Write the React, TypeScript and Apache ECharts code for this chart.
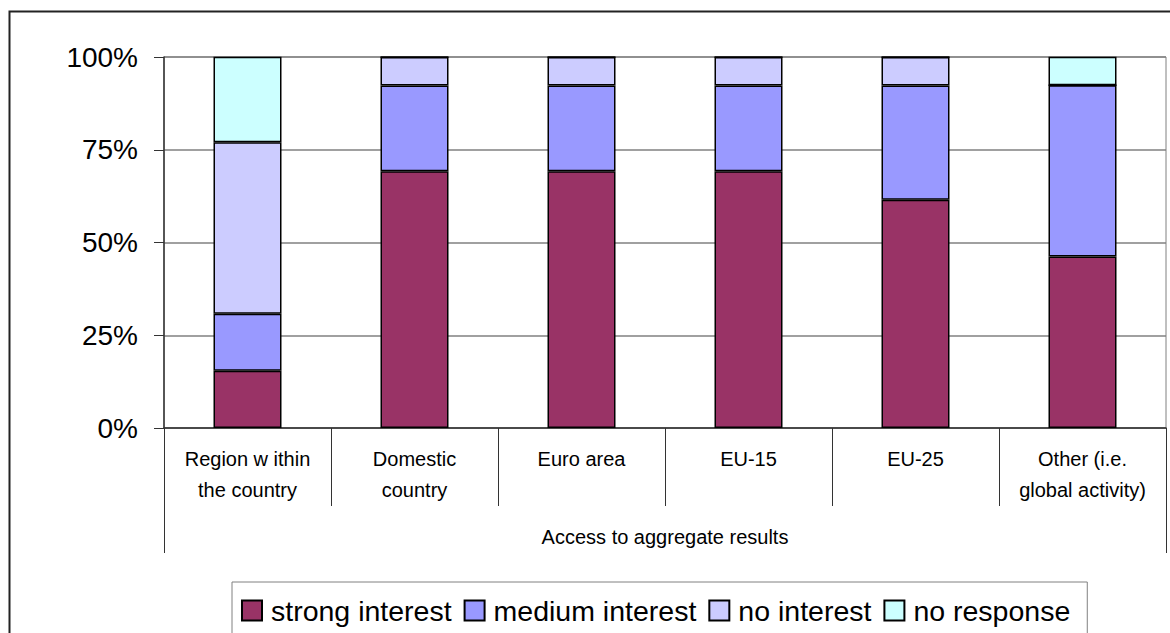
import React, { useEffect, useRef } from "react";
import * as echarts from "echarts";

const categories = [
  "Region w ithin\nthe country",
  "Domestic\ncountry",
  "Euro area",
  "EU-15",
  "EU-25",
  "Other (i.e.\nglobal activity)",
];
const groupLabel = ["Access to aggregate results"];
const respondents = 13;
const strongInterest = [2, 9, 9, 9, 8, 6];
const mediumInterest = [2, 3, 3, 3, 4, 6];
const noInterest = [6, 1, 1, 1, 1, 0];
const noResponse = [3, 0, 0, 0, 0, 1];
const seriesNames = ["strong interest", "medium interest", "no interest", "no response"];
const seriesColors = ["#993366", "#9999FF", "#CCCCFF", "#CCFFFF"];

const toPct = (arr: number[]) => arr.map((v) => Math.round((v / respondents) * 1000) / 10);

export default function App() {
  const ref = useRef<HTMLDivElement>(null);
  useEffect(() => {
    if (!ref.current) return;
    const chart = echarts.init(ref.current, null, { renderer: "svg" });
    const font = "'Liberation Sans', Arial, sans-serif";
    const data = [strongInterest, mediumInterest, noInterest, noResponse];
    chart.setOption({
      animation: false,
      backgroundColor: "#ffffff",
      textStyle: { fontFamily: font },
      graphic: [
        {
          type: "rect",
          shape: { x: 9.5, y: 11.5, width: 1300, height: 800 },
          style: { fill: "none", stroke: "#222", lineWidth: 2 },
          silent: true,
          z: -1,
        },
      ],
      grid: {
        left: 164,
        right: 4,
        top: 57,
        bottom: 205,
        show: true,
        borderColor: "#808080",
        borderWidth: 1,
      },
      legend: {
        left: 232,
        top: 582,
        padding: [14, 17, 20, 9],
        borderColor: "#808080",
        borderWidth: 1,
        icon: "rect",
        itemWidth: 20,
        itemHeight: 20,
        itemGap: 12,
        data: seriesNames,
        itemStyle: { borderColor: "#000", borderWidth: 2 },
        textStyle: { fontSize: 28.5, color: "#000", fontFamily: font, padding: [0, 0, 0, 4] },
      },
      xAxis: [
        {
          type: "category",
          data: categories,
          position: "bottom",
          axisLine: { show: true, lineStyle: { color: "#333", width: 1.5 } },
          axisTick: { show: true, length: 78, lineStyle: { color: "#333", width: 1 } },
          axisLabel: {
            color: "#000",
            fontSize: 20,
            lineHeight: 31,
            margin: 15,
            fontFamily: font,
          },
        },
        {
          type: "category",
          data: groupLabel,
          position: "bottom",
          axisLine: { show: false },
          axisTick: { show: true, length: 125, lineStyle: { color: "#333", width: 1 } },
          axisLabel: {
            color: "#000",
            fontSize: 20,
            lineHeight: 30,
            margin: 94,
            fontFamily: font,
          },
        },
      ],
      yAxis: {
        type: "value",
        min: 0,
        max: 100,
        interval: 25,
        axisLine: { show: true, lineStyle: { color: "#333", width: 1.5 } },
        axisTick: { show: true, length: 10, lineStyle: { color: "#333" } },
        axisLabel: {
          formatter: "{value}%",
          color: "#000",
          fontSize: 28,
          margin: 26,
          fontFamily: font,
        },
        splitLine: { show: true, lineStyle: { color: "#808080", width: 1.5 } },
      },
      series: seriesNames.map((name, i) => ({
        name,
        type: "bar",
        stack: "total",
        xAxisIndex: 0,
        barWidth: 68,
        data: toPct(data[i]),
        itemStyle: { color: seriesColors[i], borderColor: "#000", borderWidth: 1.5 },
      })),
    });
    return () => chart.dispose();
  }, []);
  return (
    <div
      ref={ref}
      style={{ position: "fixed", left: 0, top: 0, width: 1170, height: 633 }}
    />
  );
}
